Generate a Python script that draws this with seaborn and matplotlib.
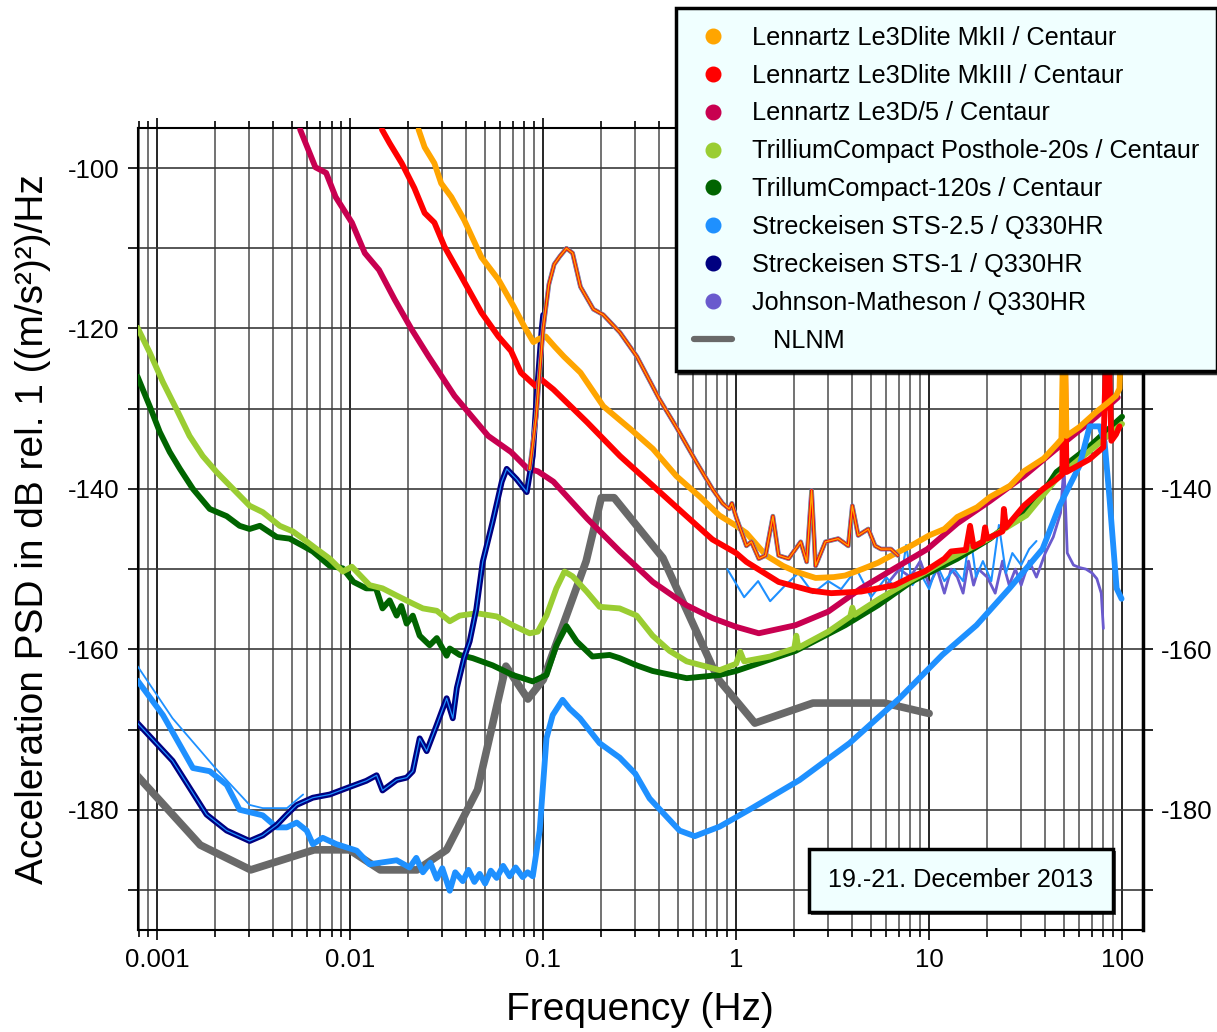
import numpy as np
import pandas as pd
import matplotlib
matplotlib.use("Agg")
import matplotlib.pyplot as plt
import matplotlib.patheffects as pe
from matplotlib.lines import Line2D
from matplotlib.ticker import LogLocator, NullFormatter, FixedLocator, FixedFormatter
import seaborn as sns

# ---- data ----
nlnm_f = [0.00079, 0.00167, 0.00305, 0.0065, 0.0099, 0.0143, 0.0222, 0.0316, 0.0457, 0.0641,
          0.0833, 0.1, 0.167, 0.2, 0.233, 0.417, 0.806, 1.25, 2.5, 5.88, 10.0]
nlnm_db = [-175.8, -184.4, -187.5, -185.0, -185.0, -187.5, -187.5, -185.0, -177.5, -162.1,
           -166.2, -163.8, -149.0, -141.1, -141.1, -148.6, -163.7, -169.2, -166.7, -166.7, -168.0]

mk2_f = [0.0226, 0.0243, 0.0273, 0.0296, 0.0334, 0.039, 0.0478, 0.0586, 0.0705, 0.08, 0.089, 0.095,
         0.103, 0.115, 0.128, 0.156, 0.205, 0.282, 0.37, 0.49, 0.65, 0.818, 1.0, 1.13, 1.43, 1.75,
         2.03, 2.58, 3.2, 3.67, 4.5, 5.44, 6.5, 8.04, 10.0, 12.0, 14.0, 17.7, 20.7, 26.3, 31.0, 39.3,
         45.7, 48.5, 50.0, 51.5, 60.0, 73.5, 85.0, 93.0, 97.0, 100.0]
mk2_db = [-95.2, -97.4, -99.4, -101.9, -103.6, -106.5, -111.1, -113.9, -117.3, -119.8, -121.7, -121.3,
          -121.0, -122.3, -123.5, -125.5, -129.7, -132.5, -135.0, -138.4, -141.0, -143.3, -144.6, -145.5,
          -148.3, -149.6, -150.3, -151.1, -151.0, -150.8, -150.0, -149.2, -148.2, -147.1, -145.8, -145.0,
          -143.5, -142.3, -141.0, -139.6, -137.8, -136.2, -134.5, -133.8, -115.0, -133.4, -132.3, -130.4,
          -129.2, -128.4, -127.5, -116.0]

mk3_f = [0.0146, 0.016, 0.0185, 0.0215, 0.0243, 0.0273, 0.0308, 0.0376, 0.0478, 0.0586, 0.0681, 0.0766,
         0.0915, 0.097, 0.113, 0.169, 0.25, 0.37, 0.553, 0.753, 1.0, 1.13, 1.66, 2.46, 3.11, 4.44, 6.63,
         8.04, 9.48, 12.0, 13.0, 15.5, 16.3, 17.0, 19.0, 19.5, 20.0, 24.0, 24.4, 25.0, 31.0, 39.0, 45.7,
         49.0, 50.0, 51.5, 67.8, 80.0, 84.0, 88.0, 93.0, 97.0]
mk3_db = [-95.2, -96.9, -99.4, -102.5, -105.6, -106.8, -109.8, -113.5, -118.0, -121.0, -122.8, -125.5,
          -127.2, -126.3, -127.6, -131.7, -135.9, -139.6, -143.4, -146.3, -148.0, -149.1, -151.6, -152.7,
          -153.0, -152.8, -152.0, -151.0, -150.3, -148.7, -147.8, -147.6, -144.6, -147.2, -146.6, -144.8,
          -146.2, -145.3, -142.5, -144.8, -142.1, -140.0, -138.8, -138.2, -115.0, -137.9, -136.3, -134.8,
          -117.0, -134.0, -133.2, -132.2]

le3d5_f = [0.0055, 0.0066, 0.0075, 0.0084, 0.0102, 0.0119, 0.0141, 0.017, 0.0208, 0.0255, 0.0347, 0.0519,
           0.0681, 0.0832, 0.0937, 0.113, 0.169, 0.25, 0.37, 0.553, 0.753, 1.0, 1.31, 2.03, 3.0, 4.44,
           6.63, 9.8, 14.0, 20.7, 31.0, 45.7, 73.5, 95.0]
le3d5_db = [-95.2, -99.9, -100.6, -103.6, -106.8, -110.6, -112.7, -116.4, -120.1, -123.5, -128.4, -133.4,
            -135.4, -137.5, -137.8, -139.1, -143.7, -147.8, -151.6, -154.5, -156.1, -157.2, -158.0, -157.0,
            -155.3, -152.4, -149.9, -147.5, -144.3, -141.5, -138.4, -135.0, -131.0, -128.6]

ph20_f = [0.00079, 0.000914, 0.00107, 0.00126, 0.00147, 0.00172, 0.00203, 0.00238, 0.00301, 0.00352,
          0.00431, 0.00504, 0.00568, 0.0067, 0.00783, 0.00914, 0.0102, 0.0126, 0.0147, 0.0174, 0.0211,
          0.0238, 0.0281, 0.0328, 0.0369, 0.0452, 0.0574, 0.0695, 0.0851, 0.0937, 0.104, 0.117, 0.129,
          0.142, 0.168, 0.196, 0.249, 0.305, 0.369, 0.452, 0.554, 0.822, 1.0, 1.05, 1.1, 1.5, 2.0, 2.05,
          2.1, 3.0, 3.9, 4.0, 4.1, 5.44, 8.04, 12.3, 20.0, 31.9, 47.0, 70.0, 100.0]
ph20_db = [-119.9, -123.0, -126.7, -130.1, -133.4, -135.9, -137.9, -139.6, -142.1, -142.9, -144.6, -145.3,
           -146.2, -147.5, -148.7, -150.3, -149.7, -152.0, -152.4, -153.3, -154.3, -154.9, -155.2, -156.5,
           -155.8, -155.5, -155.9, -157.0, -158.0, -157.8, -155.8, -152.4, -150.3, -150.9, -152.8, -154.7,
           -154.9, -155.8, -158.3, -160.2, -161.5, -162.6, -161.8, -160.3, -161.5, -160.9, -159.9, -158.3,
           -159.8, -157.8, -155.9, -154.8, -155.7, -153.8, -151.4, -148.9, -146.3, -143.3, -138.4, -135.0,
           -131.9]

tc120_f = [0.00079, 0.000914, 0.00103, 0.00116, 0.00131, 0.00153, 0.00187, 0.00229, 0.00267, 0.00301,
           0.0034, 0.00416, 0.00485, 0.00568, 0.0064, 0.00783, 0.00914, 0.0104, 0.0121, 0.0136, 0.0147,
           0.016, 0.0174, 0.0184, 0.0196, 0.0211, 0.0229, 0.0258, 0.0281, 0.0316, 0.0328, 0.0369, 0.0431,
           0.0547, 0.0695, 0.0883, 0.104, 0.117, 0.132, 0.149, 0.18, 0.221, 0.249, 0.305, 0.369, 0.554,
           0.822, 1.0, 2.03, 3.67, 5.44, 8.04, 14.0, 20.7, 31.0, 39.0, 45.7, 67.8, 100.0]
tc120_db = [-126.0, -129.7, -132.9, -135.4, -137.5, -140.0, -142.5, -143.4, -144.6, -145.0, -144.6, -146.0,
            -146.2, -147.1, -147.8, -149.6, -149.9, -151.6, -152.4, -152.4, -154.9, -153.9, -155.8, -154.6,
            -156.8, -155.8, -158.3, -159.5, -158.6, -160.8, -159.9, -160.7, -161.1, -162.0, -163.2, -164.0,
            -163.2, -159.5, -157.1, -159.0, -160.9, -160.7, -161.1, -162.0, -162.7, -163.6, -163.2, -162.7,
            -160.2, -157.0, -154.5, -151.6, -148.7, -146.2, -142.9, -140.4, -137.9, -134.7, -131.0]

sts25_f = [0.00079, 0.00107, 0.00153, 0.00187, 0.00229, 0.00267, 0.00352, 0.00416, 0.00469, 0.00528,
           0.00595, 0.0064, 0.0072, 0.0085, 0.0108, 0.0126, 0.0174, 0.0203, 0.022, 0.0238, 0.026, 0.0281,
           0.030, 0.0328, 0.035, 0.0383, 0.041, 0.044, 0.0469, 0.050, 0.0535, 0.0574, 0.062, 0.067, 0.072,
           0.0783, 0.083, 0.0883, 0.0959, 0.104, 0.112, 0.126, 0.137, 0.155, 0.175, 0.196, 0.249, 0.3,
           0.356, 0.509, 0.61, 0.822, 1.17, 2.13, 3.87, 7.03, 11.7, 17.6, 26.1, 38.7, 47.4, 60.2, 67.9,
           76.5, 81.2, 86.1, 93.7, 99.4]
sts25_db = [-163.9, -168.2, -174.8, -175.2, -176.9, -180.0, -180.7, -182.2, -182.2, -181.6, -182.6, -184.3,
            -183.5, -184.3, -185.1, -186.8, -186.3, -187.2, -186.0, -187.8, -186.6, -188.6, -187.3, -190.1,
            -187.8, -188.9, -187.5, -189.0, -188.0, -189.2, -187.6, -188.5, -187.0, -188.3, -187.2, -188.4,
            -187.8, -188.3, -182.6, -171.1, -168.2, -166.3, -167.4, -168.6, -170.2, -171.7, -173.5, -175.5,
            -178.6, -182.6, -183.3, -182.1, -180.0, -176.3, -171.7, -166.1, -160.7, -157.0, -152.4, -147.5,
            -142.1, -137.1, -132.2, -132.2, -134.2, -141.2, -152.4, -153.7]

sts1_f = [0.00079, 0.0012, 0.0018, 0.00229, 0.00301, 0.00352, 0.00416, 0.00469, 0.00528, 0.0064, 0.00783,
          0.0096, 0.0121, 0.0137, 0.0147, 0.0174, 0.0196, 0.0211, 0.0229, 0.0249, 0.0281, 0.0316, 0.034,
          0.0357, 0.039, 0.0416, 0.045, 0.0486, 0.0547, 0.061, 0.0647, 0.0729, 0.0822, 0.0883, 0.0925,
          0.0982, 0.1]
sts1_db = [-169.2, -173.9, -180.6, -182.6, -183.9, -183.2, -181.9, -180.6, -179.4, -178.5, -178.1, -177.3,
           -176.4, -175.7, -177.6, -176.3, -176.0, -175.2, -171.1, -172.7, -169.4, -166.1, -168.6, -164.8,
           -161.0, -159.0, -155.0, -149.1, -144.1, -139.1, -137.5, -138.8, -140.4, -135.9, -128.4, -120.1,
           -118.3]

# thin trace of the STS-1 channel below 6 mHz
sts1_thin_f = [0.00079, 0.0012, 0.002, 0.00301, 0.00352, 0.0047, 0.0057]
sts1_thin_db = [-162.1, -168.6, -174.8, -179.4, -179.8, -179.8, -178.1]

# microseism signal seen by all sensors (thin traces)
sig_f = [0.085, 0.092, 0.1, 0.107, 0.114, 0.122, 0.132, 0.142, 0.156, 0.182, 0.205, 0.25, 0.306, 0.40,
         0.49, 0.62, 0.753, 0.85, 0.92, 0.95, 1.0, 1.13, 1.2, 1.31, 1.42, 1.55, 1.66, 1.87, 2.16, 2.32,
         2.46, 2.58, 2.9, 3.38, 3.81, 4.0, 4.29, 4.84, 5.25, 5.63, 6.34, 6.89]
sig_db = [-137.5, -131.0, -120.0, -114.5, -112.0, -111.0, -110.0, -110.6, -114.8, -117.6, -118.3, -120.5,
          -123.5, -128.8, -132.3, -136.6, -140.0, -141.8, -142.5, -141.8, -143.5, -147.1, -146.6, -148.7,
          -148.3, -143.4, -148.3, -148.7, -146.6, -149.1, -140.2, -149.6, -146.6, -146.2, -147.1, -142.1,
          -145.8, -145.0, -147.1, -147.5, -147.5, -148.3]

sts25_sig_f = [0.9, 1.1, 1.3, 1.5, 1.8, 2.1, 2.5, 3.0, 3.5, 4.2, 5.0, 6.0, 7.0, 7.6, 8.2, 9.0, 10.0, 11.0,
               12.0, 13.5, 15.0, 16.3, 17.5, 19.0, 21.0, 23.0, 25.0, 27.0, 30.0, 33.0, 36.0]
sts25_sig_db = [-150.0, -153.5, -151.5, -154.0, -152.0, -150.5, -153.0, -151.5, -152.5, -150.0, -153.5,
                -151.0, -153.0, -147.0, -152.0, -150.5, -152.5, -149.5, -151.5, -150.0, -151.5, -145.5,
                -151.0, -149.0, -151.5, -144.5, -150.5, -148.0, -149.5, -147.5, -146.5]

jm_f = [6.0, 7.0, 8.0, 9.0, 10.0, 11.0, 12.0, 13.0, 14.0, 15.0, 16.0, 17.0, 18.0, 20.0, 22.0, 24.0, 26.0,
        28.0, 30.0, 33.0, 36.0, 40.0, 44.0, 48.0, 50.0, 52.0, 56.0, 60.0, 65.0, 70.0, 74.0, 78.0, 80.0]
jm_db = [-152.0, -150.0, -151.0, -149.0, -152.0, -150.0, -153.0, -150.0, -151.0, -153.0, -149.0, -152.0,
         -150.0, -151.0, -153.0, -149.0, -152.0, -150.0, -152.0, -149.0, -151.0, -148.0, -146.0, -143.0,
         -137.0, -148.0, -149.5, -149.8, -150.0, -150.5, -151.2, -153.0, -157.4]

labels = ["Lennartz Le3Dlite MkII / Centaur", "Lennartz Le3Dlite MkIII / Centaur",
          "Lennartz Le3D/5 / Centaur", "TrilliumCompact Posthole-20s / Centaur",
          "TrillumCompact-120s / Centaur", "Streckeisen STS-2.5 / Q330HR",
          "Streckeisen STS-1 / Q330HR", "Johnson-Matheson / Q330HR"]
colors = ["#FFA500", "#FF0000", "#C80050", "#9ACD32", "#006400", "#1E90FF", "#000080", "#6A5ACD"]
x_ticks = [0.001, 0.01, 0.1, 1, 10, 100]
x_tick_labels = ["0.001", "0.01", "0.1", "1", "10", "100"]
y_ticks = [-190, -180, -170, -160, -150, -140, -130, -120, -110, -100]
y_labels_left = [-180, -160, -140, -120, -100]
y_labels_right = [-180, -160, -140]   # the legend box hides the upper ones

# ---- figure ----
sns.set_theme(style="white")
plt.rcParams['font.family'] = ['Liberation Sans', 'DejaVu Sans']
plt.rcParams.update({'text.color': 'black', 'axes.labelcolor': 'black',
                     'xtick.color': 'black', 'ytick.color': 'black'})

fig = plt.figure(figsize=(12.17, 10.32), dpi=100)
ax = fig.add_axes([0.113, 0.0988, 0.826, 0.7772])

C_MK2, C_MK3, C_LE5, C_PH, C_TC, C_S25, C_S1, C_JM = colors
NLNM_GRAY = "#696969"
LW = 4.2


def trace(f, db, color, lw, z):
    sns.lineplot(x=f, y=db, ax=ax, color=color, lw=lw, estimator=None, sort=False,
                 zorder=z, solid_joinstyle='round')


trace(nlnm_f, nlnm_db, NLNM_GRAY, 5.5, 2)
trace(jm_f, jm_db, C_JM, 2.0, 3)
trace(sts25_sig_f, sts25_sig_db, C_S25, 1.5, 3)
trace(tc120_f, tc120_db, C_TC, LW, 4)
trace(ph20_f, ph20_db, C_PH, LW, 5)
trace(le3d5_f, le3d5_db, C_LE5, LW, 6)
trace(sts25_f, sts25_db, C_S25, LW, 7)
trace(sts1_f, sts1_db, C_S1, LW, 8)
trace(sts1_thin_f, sts1_thin_db, C_S25, 1.3, 8)
trace(sts1_f, sts1_db, C_S25, 0.9, 8)
trace(mk3_f, mk3_db, C_MK3, LW, 9)
trace(mk2_f, mk2_db, C_MK2, LW, 10)
# thin signal traces stacked
trace(sig_f, sig_db, C_JM, 3.4, 11)
trace(sig_f, sig_db, C_PH, 2.8, 11)
trace(sig_f, sig_db, C_LE5, 2.2, 11)
trace(sig_f, sig_db, C_MK3, 1.7, 11)
trace(sig_f, sig_db, C_MK2, 1.0, 11)

ax.set_xscale('log')
ax.set_xlim(0.00079, 128)
ax.set_ylim(-195, -95)

ax.xaxis.set_major_locator(FixedLocator(x_ticks))
ax.xaxis.set_major_formatter(FixedFormatter(x_tick_labels))
ax.xaxis.set_minor_locator(LogLocator(base=10, subs=np.arange(2, 10), numticks=20))
ax.xaxis.set_minor_formatter(NullFormatter())
ax.set_yticks(y_ticks)
ax.set_yticklabels([str(v) if v in y_labels_left else "" for v in y_ticks])

ax.set_axisbelow(True)
ax.grid(which='minor', axis='x', color='#5a5a5a', lw=1.2)
ax.grid(which='major', axis='x', color='black', lw=1.2)
ax.grid(which='major', axis='y', color='#3a3a3a', lw=1.2)

ax.tick_params(which='both', direction='out', top=True, bottom=True, left=True, right=False,
               color='black', width=1.2, labelsize=18.5, pad=6)
ax.tick_params(which='major', length=7)
ax.tick_params(which='minor', length=5)
for s in ax.spines.values():
    s.set_color('black')
    s.set_linewidth(1.5)

ax2 = ax.twinx()
ax2.set_ylim(-195, -95)
ax2.set_yticks(y_ticks)
ax2.set_yticklabels([str(v) if v in y_labels_right else "" for v in y_ticks])
ax2.tick_params(axis='y', direction='out', length=7, width=1.2, color='black', labelsize=18.5, pad=6)
ax2.grid(False)
for s in ax2.spines.values():
    s.set_visible(False)
ax2.spines['right'].set_visible(True)
ax2.spines['right'].set_color('black')
ax2.spines['right'].set_linewidth(2.5)

ax.set_xlabel("Frequency (Hz)", fontsize=28, labelpad=14)
ax.set_ylabel("Acceleration PSD in dB rel. 1 ((m/s²)²)/Hz", fontsize=28, labelpad=12)

# date box
txt = ax.text(0.819, 0.062, "19.-21. December 2013", transform=ax.transAxes, fontsize=18.2,
              ha='center', va='center', zorder=20,
              bbox=dict(boxstyle='square,pad=0.78', fc='#F0FFFF', ec='black', lw=2.5))
txt.get_bbox_patch().set_path_effects([pe.withSimplePatchShadow(offset=(2, -2), shadow_rgbFace='black', alpha=0.7)])

# legend
handles = [Line2D([], [], marker='o', ls='none', color=c, markersize=10.5) for c in colors]
handles.append(Line2D([], [], color=NLNM_GRAY, lw=4.5))
leg = fig.legend(handles, labels + ["   NLNM"], loc='upper left',
                 bbox_to_anchor=(676 / 1217, 1 - 8 / 1032), fontsize=18.2, frameon=True,
                 borderpad=0.7, labelspacing=0.55, handlelength=1.53, handletextpad=0.78,
                 borderaxespad=0, fancybox=False, facecolor='#F0FFFF', edgecolor='black',
                 framealpha=1, shadow={'color': 'black', 'alpha': 0.8})
leg.get_frame().set_linewidth(2.5)

fig.savefig("out.png", dpi=100)
